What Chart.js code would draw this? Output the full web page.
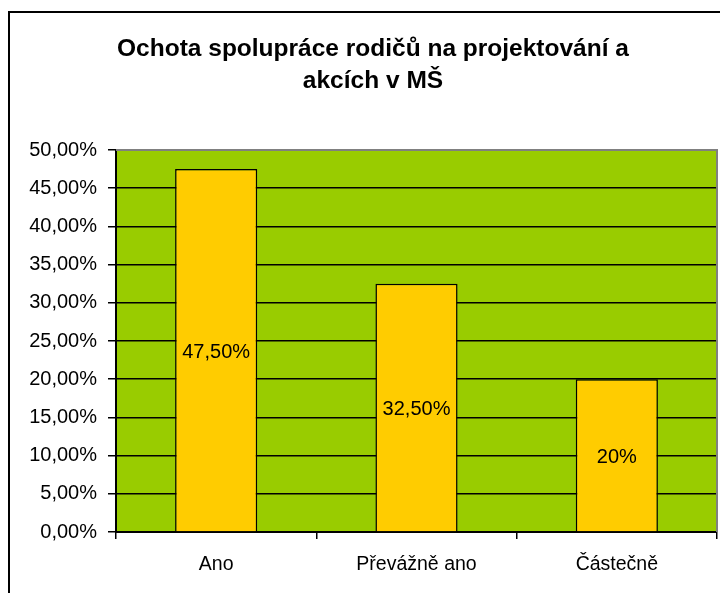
<!DOCTYPE html>
<html><head><meta charset="utf-8">
<script src="https://cdn.jsdelivr.net/npm/chart.js@4"></script>
<style>html,body{margin:0;padding:0;background:#fff}canvas{display:block}</style>
</head><body>
<canvas id="c" width="720" height="593"></canvas>
<script>
const titleLines = ["Ochota spolupráce rodičů na projektování a", "akcích v MŠ"];
const categories = ["Ano", "Převážně ano", "Částečně"];
const values = [0.475, 0.325, 0.20];
const valueLabels = ["47,50%", "32,50%", "20%"];
const yMin = 0, yMax = 0.5, yStep = 0.05;

const FONT = "'Liberation Sans', Arial, sans-serif";

const decor = {
  id: 'decor',
  beforeDraw(chart) {
    const {ctx, chartArea: a} = chart;
    ctx.save();
    ctx.fillStyle = '#fff';
    ctx.fillRect(0, 0, chart.width, chart.height);
    ctx.fillStyle = '#99CC00';
    ctx.fillRect(a.left, a.top, a.right - a.left, a.bottom - a.top);
    ctx.restore();
  },
  afterDraw(chart) {
    const {ctx, chartArea: a} = chart;
    ctx.save();
    ctx.strokeStyle = '#808080';
    ctx.lineWidth = 2;
    ctx.beginPath();
    ctx.moveTo(a.left, a.top);
    ctx.lineTo(a.right, a.top);
    ctx.lineTo(a.right, a.bottom);
    ctx.stroke();
    ctx.strokeStyle = '#000';
    ctx.lineWidth = 2;
    ctx.strokeRect(9, 12, 900, 900);
    ctx.fillStyle = '#000';
    ctx.font = 'bold 24.5px ' + FONT;
    ctx.textAlign = 'center';
    ctx.textBaseline = 'middle';
    ctx.fillText(titleLines[0], 373, 49);
    ctx.fillText(titleLines[1], 373, 81);
    ctx.font = '20px ' + FONT;
    const meta = chart.getDatasetMeta(0);
    meta.data.forEach((bar, i) => {
      const y = (bar.y + bar.base) / 2;
      ctx.fillText(valueLabels[i], bar.x, y + 2);
    });
    ctx.restore();
  }
};

new Chart(document.getElementById('c'), {
  type: 'bar',
  data: {
    labels: categories,
    datasets: [{
      data: values,
      backgroundColor: '#FFCC00',
      borderColor: '#000',
      borderWidth: 1.5,
      borderSkipped: 'bottom',
      barPercentage: 0.41,
      categoryPercentage: 1.0
    }]
  },
  options: {
    responsive: false,
    animation: false,
    devicePixelRatio: 1,
    layout: { padding: { top: 150, left: 0, right: 3, bottom: 0 } },
    plugins: { legend: { display: false }, title: { display: false }, tooltip: { enabled: false } },
    scales: {
      x: {
        offset: true,
        grid: { offset: true, drawOnChartArea: false, color: '#000', tickLength: 7, lineWidth: 1.5 },
        border: { color: '#000', width: 2 },
        ticks: { color: '#000', font: { family: FONT, size: 19.5 }, padding: 14 },
        afterFit(s) { s.height = 61; }
      },
      y: {
        min: yMin, max: yMax,
        grid: {
          color: (c) => (c.tick && Math.abs(c.tick.value - yMax) < 1e-9) ? '#808080' : '#000',
          tickColor: '#000',
          lineWidth: 1.5,
          tickLength: 8
        },
        border: { color: '#000', width: 2 },
        ticks: {
          stepSize: yStep,
          color: '#000',
          font: { family: FONT, size: 20 },
          padding: 11,
          callback: (v) => (v * 100).toFixed(2).replace('.', ',') + '%'
        },
        afterFit(s) { s.width = 116; }
      }
    }
  },
  plugins: [decor]
});
</script>
</body></html>
